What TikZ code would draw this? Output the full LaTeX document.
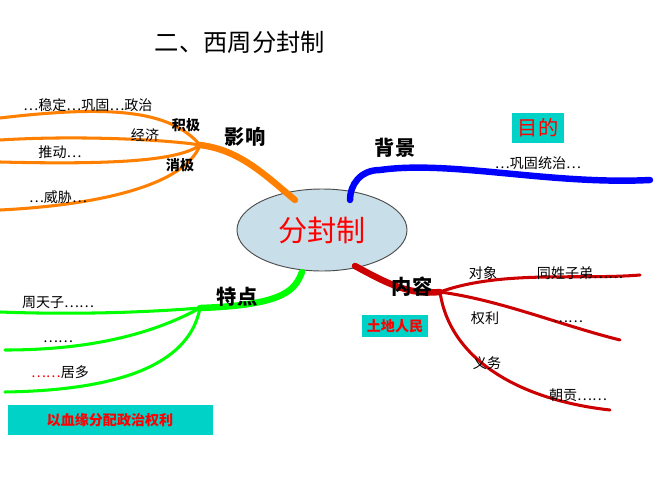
\documentclass[tikz,border=0pt]{standalone}
\usepackage{fontspec}
\setmainfont{Noto Sans CJK SC}
\usetikzlibrary{shapes.geometric}
\definecolor{tealbox}{RGB}{0,210,200}
\definecolor{hubfill}{RGB}{200,222,232}
\tikzset{
  branch/.style={line width=5.5pt,line cap=round},
  twig/.style={line width=2.6pt,line cap=round},
  head/.style={font=\LARGE\bfseries},
  leaf/.style={font=\large},
  tag/.style={fill=tealbox,text=red,font=\large\bfseries,inner sep=4pt},
}
\begin{document}
\begin{tikzpicture}[x=0.03cm,y=-0.03cm]
\useasboundingbox (0,0) rectangle (667,500);
\node (title) at (240,42) {\huge 二、西周分封制};
\node[ellipse,draw=black!70,thick,fill=hubfill,minimum width=170*0.03cm,minimum height=82*0.03cm,
  text=red,font=\Huge] (hub) at (322,230) {分封制};
% influence (orange)
\coordinate (o1) at (200,145);
\draw[branch,orange] (295,200) .. controls (265,175) and (240,150) .. (o1);
\draw[twig,orange] (o1) .. controls (170,110) and (110,105) .. (0,118);
\draw[twig,orange] (o1) .. controls (170,140) and (80,135) .. (0,140);
\draw[twig,orange] (o1) .. controls (180,160) and (120,165) .. (0,162);
\draw[twig,orange] (o1) .. controls (185,185) and (100,205) .. (0,210);
\node[head] (yx) at (245,137) {影响};
\node[leaf] (wd) at (88,105) {…稳定…巩固…政治};
\node[font=\large\bfseries] (jj) at (186,125) {积极};
\node[leaf] (jjx) at (145,135) {经济};
\node[leaf] (td) at (60,152) {推动…};
\node[font=\large\bfseries] (xj) at (180,165) {消极};
\node[leaf] (wx) at (58,197) {…威胁…};
% background (blue)
\coordinate (b1) at (380,170);
\draw[branch,blue] (350,200) .. controls (350,185) and (360,170) .. (b1)
  .. controls (450,160) and (550,185) .. (650,180);
\node[head] (bj) at (395,148) {背景};
\node[tag,font=\LARGE,inner sep=5pt] (md) at (538,128) {目的};
\node[leaf] (gg) at (538,163) {…巩固统治…};
% content (red)
\coordinate (r1) at (440,292);
\draw[branch,red!80!black] (355,266) .. controls (390,285) and (410,295) .. (r1);
\draw[twig,red!80!black] (r1) .. controls (500,270) and (580,280) .. (640,275);
\draw[twig,red!80!black] (r1) .. controls (500,300) and (560,325) .. (620,340);
\draw[twig,red!80!black] (r1) .. controls (450,360) and (520,400) .. (610,410);
\node[head] (nr) at (412,287) {内容};
\node[tag] (td2) at (395,326) {土地人民};
\node[leaf] (dx) at (483,273) {对象};
\node[leaf] (tx) at (580,273) {同姓子弟……};
\node[leaf] (ql) at (485,318) {权利};
\node[leaf] (qd) at (568,322) {……};
\node[leaf] (yw) at (487,363) {义务};
\node[leaf] (cg) at (578,395) {朝贡……};
% features (green)
\coordinate (g1) at (200,308);
\draw[branch,green] (302,272) .. controls (295,290) and (285,305) .. (g1);
\draw[twig,green] (g1) .. controls (150,312) and (80,315) .. (0,312);
\draw[twig,green] (g1) .. controls (160,330) and (100,350) .. (5,350);
\draw[twig,green] (g1) .. controls (190,360) and (130,390) .. (5,392);
\node[head] (td3) at (237,297) {特点};
\node[leaf] (ztz) at (58,303) {周天子……};
\node[leaf] (dd) at (58,342) {……};
\node[leaf] (jd) at (60,372) {\textcolor{red}{……}居多};
\node[tag,minimum width=205*0.03cm,minimum height=30*0.03cm] (xy) at (110,420) {以血缘分配政治权利};
\end{tikzpicture}
\end{document}
